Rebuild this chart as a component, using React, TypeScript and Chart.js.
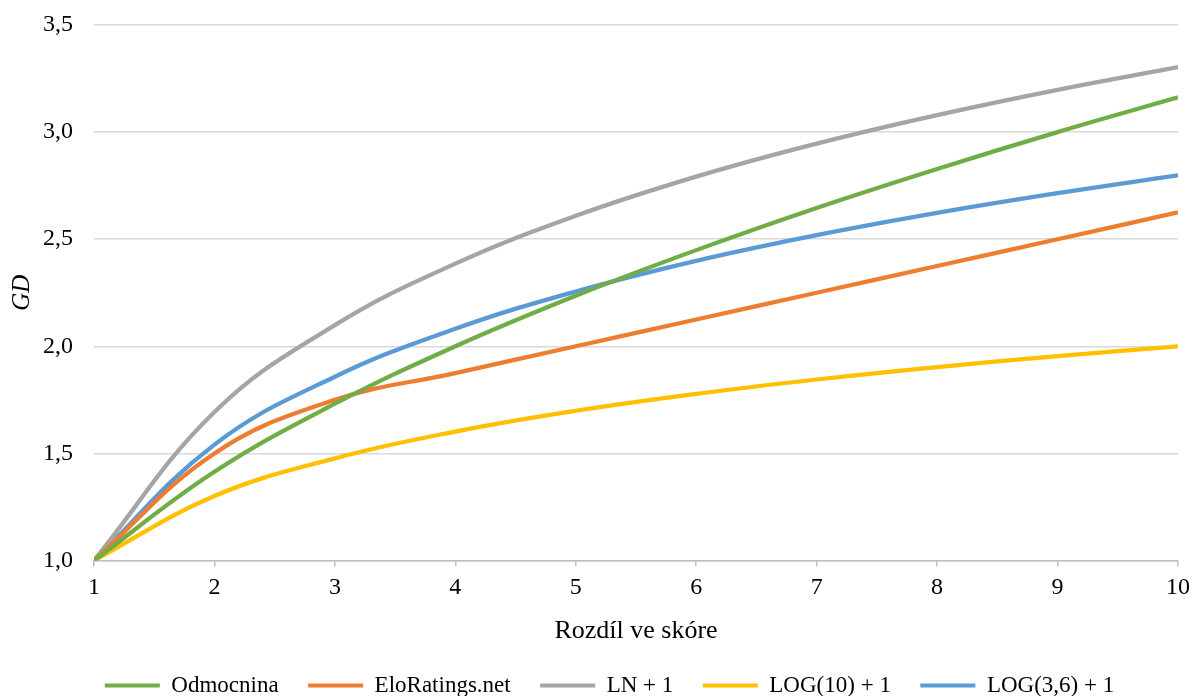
import React, { useEffect, useRef } from "react";
import { Chart, registerables } from "chart.js";

Chart.register(...registerables);

const xValues = [1, 2, 3, 4, 5, 6, 7, 8, 9, 10];
const odmocnina = [1.0, 1.414, 1.732, 2.0, 2.236, 2.449, 2.646, 2.828, 3.0, 3.162];
const eloRatings = [1.0, 1.5, 1.75, 1.875, 2.0, 2.125, 2.25, 2.375, 2.5, 2.625];
const lnPlus1 = [1.0, 1.693, 2.099, 2.386, 2.609, 2.792, 2.946, 3.079, 3.197, 3.303];
const log10Plus1 = [1.0, 1.301, 1.477, 1.602, 1.699, 1.778, 1.845, 1.903, 1.954, 2.0];
const log36Plus1 = [1.0, 1.541, 1.858, 2.082, 2.256, 2.399, 2.519, 2.623, 2.715, 2.798];

const seriesLabels = ["Odmocnina", "EloRatings.net", "LN + 1", "LOG(10) + 1", "LOG(3,6) + 1"];
const seriesColors = ["#70AD47", "#ED7D31", "#A5A5A5", "#FFC000", "#5B9BD5"];
const xTitle = "Rozdíl ve skóre";
const yTitle = "GD";

const FONT = "'Liberation Serif', 'Times New Roman', serif";

export default function App() {
  const ref = useRef<HTMLCanvasElement | null>(null);

  useEffect(() => {
    if (!ref.current) return;
    const all = [odmocnina, eloRatings, lnPlus1, log10Plus1, log36Plus1];
    const chart = new Chart(ref.current, {
      type: "line",
      data: {
        datasets: all.map((arr, i) => ({
          label: seriesLabels[i],
          data: arr.map((y, j) => ({ x: xValues[j], y })),
          borderColor: seriesColors[i],
          backgroundColor: seriesColors[i],
          borderWidth: 4.25,
          pointRadius: 0,
          tension: 0.4,
          fill: false,
        })),
      },
      options: {
        animation: false,
        responsive: true,
        maintainAspectRatio: false,
        layout: { padding: { left: 36, right: 14, top: 25, bottom: -11 } },
        scales: {
          x: {
            type: "linear",
            min: 1,
            max: 10,
            ticks: {
              stepSize: 1,
              padding: 7,
              color: "#000",
              font: { family: FONT, size: 24 },
            },
            grid: {
              display: true,
              drawOnChartArea: false,
              drawTicks: true,
              tickLength: 6,
              color: "#bfbfbf",
              lineWidth: 1.5,
            },
            border: { display: true, color: "#bfbfbf", width: 1.5 },
            title: {
              display: true,
              text: xTitle,
              color: "#000",
              font: { family: FONT, size: 26, lineHeight: 1 },
              padding: { top: 0, bottom: 0 },
            },
            afterFit: (s: any) => {
              s.height = 84;
            },
          },
          y: {
            type: "linear",
            min: 1,
            max: 3.5,
            ticks: {
              stepSize: 0.5,
              padding: 4,
              color: "#000",
              font: { family: FONT, size: 24 },
              callback: (v: any) => Number(v).toFixed(1).replace(".", ","),
            },
            grid: {
              color: "#d9d9d9",
              lineWidth: 1.5,
              drawTicks: true,
              tickLength: 17,
              tickColor: "rgba(0,0,0,0)",
            },
            border: { display: false },
            title: {
              display: true,
              text: yTitle,
              color: "#000",
              font: { family: FONT, size: 25, style: "italic", lineHeight: 1.2 },
              padding: { top: -29, bottom: 0 },
            },
            afterFit: (s: any) => {
              s.width = 58;
            },
          },
        },
        plugins: {
          tooltip: { enabled: false },
          legend: {
            display: true,
            position: "bottom",
            labels: {
              boxWidth: 55,
              boxHeight: 4,
              padding: 29.5,
              color: "#000",
              font: { family: FONT, size: 23 },
              generateLabels: (c: any) =>
                Chart.defaults.plugins.legend.labels.generateLabels(c).map((it: any) => ({
                  ...it,
                  lineWidth: 0,
                  fillStyle: it.strokeStyle,
                })),
            },
          },
        },
      },
    });
    return () => chart.destroy();
  }, []);

  return (
    <div style={{ position: "absolute", left: 0, top: 0, width: 1197, height: 696 }}>
      <canvas ref={ref} />
    </div>
  );
}
